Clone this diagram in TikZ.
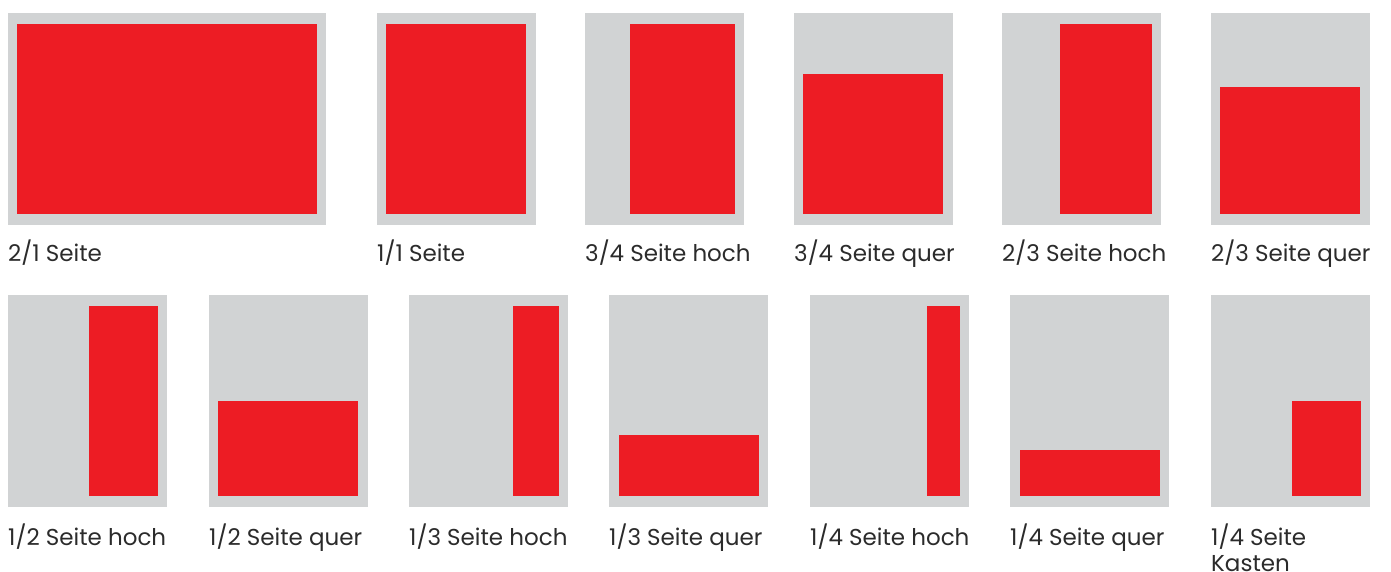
\documentclass[tikz,border=0pt]{standalone}
\usepackage{fontspec}
\setmainfont{Poppins}
\definecolor{pagegray}{HTML}{D1D3D4}
\definecolor{adred}{HTML}{ED1C24}
\definecolor{labelc}{HTML}{2B2B2B}
\tikzset{
  pagebox/.style={fill=pagegray},
  adbox/.style={fill=adred},
  lbl/.style={anchor=base west, inner sep=0pt, text=labelc, font=\fontsize{23}{26}\selectfont}
}
\newcommand{\panel}[8]{%
  \fill[pagebox] (#1,#2) rectangle (#3,#4);
  \fill[adbox] (#5,#6) rectangle (#7,#8);
}
\begin{document}
\begin{tikzpicture}[x=1pt,y=-1pt]
\useasboundingbox (0,0) rectangle (1391,572);
% top row
\panel{8}{13}{326}{225}{17}{24}{317}{214}
\node[lbl] (t1) at (8,261) {2/1 Seite};
\panel{377}{13}{536}{225}{386}{24}{526}{214}
\node[lbl] (t2) at (377,261) {1/1 Seite};
\panel{585}{13}{744}{225}{630}{24}{735}{214}
\node[lbl] (t3) at (585,261) {3/4 Seite hoch};
\panel{794}{13}{953}{225}{803}{74}{943}{214}
\node[lbl] (t4) at (794,261) {3/4 Seite quer};
\panel{1002}{13}{1161}{225}{1060}{24}{1152}{214}
\node[lbl] (t5) at (1002,261) {2/3 Seite hoch};
\panel{1211}{13}{1370}{225}{1220}{87}{1360}{214}
\node[lbl] (t6) at (1211,261) {2/3 Seite quer};
% bottom row
\panel{8}{295}{167}{507}{89}{306}{158}{496}
\node[lbl] (b1) at (8,545) {1/2 Seite hoch};
\panel{209}{295}{368}{507}{218}{401}{358}{496}
\node[lbl] (b2) at (209,545) {1/2 Seite quer};
\panel{409}{295}{568}{507}{513}{306}{559}{496}
\node[lbl] (b3) at (409,545) {1/3 Seite hoch};
\panel{609}{295}{768}{507}{619}{435}{759}{496}
\node[lbl] (b4) at (609,545) {1/3 Seite quer};
\panel{810}{295}{969}{507}{927}{306}{960}{496}
\node[lbl] (b5) at (810,545) {1/4 Seite hoch};
\panel{1010}{295}{1169}{507}{1020}{450}{1160}{496}
\node[lbl] (b6) at (1010,545) {1/4 Seite quer};
\panel{1211}{295}{1370}{507}{1292}{401}{1361}{496}
\node[lbl] (b7) at (1211,545) {\vtop{\hbox{1/4 Seite}\hbox{Kasten}}};
\end{tikzpicture}
\end{document}
